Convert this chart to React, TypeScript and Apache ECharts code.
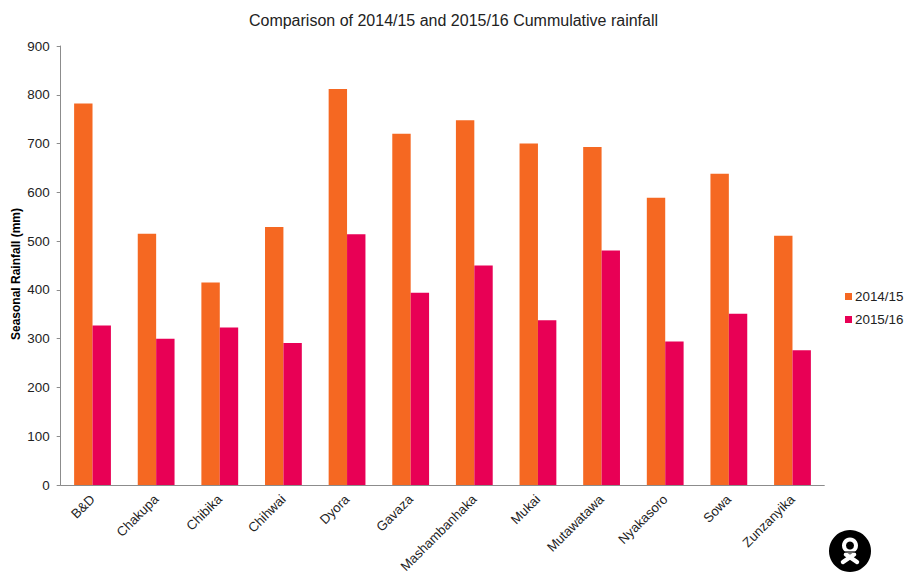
import React, { useEffect, useRef } from "react";
import * as echarts from "echarts";

const chartTitle = "Comparison of 2014/15 and 2015/16 Cummulative rainfall";
const yAxisName = "Seasonal Rainfall (mm)";
const wards = ["B&D", "Chakupa", "Chibika", "Chihwai", "Dyora", "Gavaza", "Mashambanhaka", "Mukai", "Mutawatawa", "Nyakasoro", "Sowa", "Zunzanyika"];
const season1415 = [782, 515, 415, 529, 812, 720, 748, 700, 693, 589, 638, 511];
const season1516 = [327, 300, 323, 291, 514, 394, 450, 338, 481, 294, 351, 276];

const font = "Liberation Sans";

export default function App() {
  const ref = useRef<HTMLDivElement>(null);
  useEffect(() => {
    document.body.style.margin = "0";
    const chart = echarts.init(ref.current!, null, { renderer: "svg" });
    chart.setOption({
      animation: false,
      backgroundColor: "#ffffff",
      textStyle: { fontFamily: font },
      title: {
        text: chartTitle,
        left: 448.5,
        top: 7,
        textAlign: "center",
        textStyle: { fontFamily: font, fontSize: 16, fontWeight: "normal", color: "#222222" },
      },
      legend: {
        orient: "vertical",
        left: 840,
        top: 285,
        itemWidth: 7,
        itemHeight: 7,
        itemGap: 10,
        icon: "rect",
        selectedMode: false,
        textStyle: { fontFamily: font, fontSize: 13.4, color: "#222222", padding: [0, 0, 0, -2] },
      },
      grid: { left: 60.7, right: 80.7, top: 46, height: 439, containLabel: false, outerBoundsMode: "none" },
      xAxis: {
        type: "category",
        data: wards,
        axisLine: { lineStyle: { color: "#8c8c8c", width: 1 } },
        axisTick: { show: false },
        axisLabel: { rotate: 45, interval: 0, fontFamily: font, fontSize: 13.2, color: "#222222", margin: 12 },
      },
      yAxis: {
        type: "value",
        min: 0,
        max: 900,
        interval: 100,
        name: yAxisName,
        nameLocation: "middle",
        nameGap: 39,
        nameMoveOverlap: false,
        nameTextStyle: { fontFamily: font, fontSize: 12, fontWeight: "bold", color: "#000000", padding: [0, 17, 0, 0] },
        splitLine: { show: false },
        axisLine: { show: true, lineStyle: { color: "#8c8c8c", width: 1 } },
        axisTick: { show: true, length: 4, inside: false, lineStyle: { color: "#8c8c8c" } },
        axisLabel: { fontFamily: font, fontSize: 13.4, color: "#222222", margin: 11 },
      },
      series: [
        { name: "2014/15", type: "bar", data: season1415, barWidth: 18.4, barGap: "0%", itemStyle: { color: "#f56822" } },
        { name: "2015/16", type: "bar", data: season1516, barWidth: 18.4, barGap: "0%", itemStyle: { color: "#e80055" } },
      ],
      graphic: [
        {
          type: "group",
          x: 850,
          y: 551,
          silent: true,
          children: [
            { type: "circle", shape: { cx: 0, cy: 0, r: 21 }, style: { fill: "#000000" } },
            { type: "ring", shape: { cx: 0, cy: -5.5, r: 8, r0: 4 }, style: { fill: "#ffffff" } },
            { type: "line", shape: { x1: -7, y1: 11, x2: 4, y2: 3.5 }, style: { stroke: "#ffffff", lineWidth: 4.5, lineCap: "round" } },
            { type: "line", shape: { x1: 7, y1: 11, x2: -4, y2: 3.5 }, style: { stroke: "#ffffff", lineWidth: 4.5, lineCap: "round" } },
            { type: "line", shape: { x1: -10, y1: 1, x2: 10, y2: 1 }, style: { stroke: "#000000", lineWidth: 1.2 } },
          ],
        },
      ],
    });
    return () => chart.dispose();
  }, []);
  return <div ref={ref} style={{ width: 905, height: 573 }} />;
}
